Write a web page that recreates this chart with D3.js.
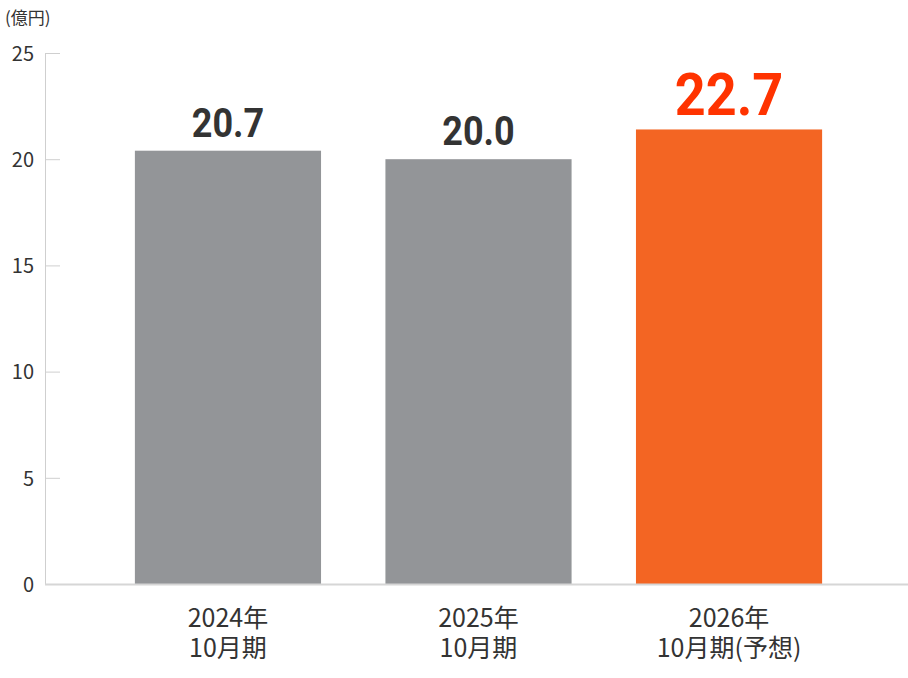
<!DOCTYPE html>
<html>
<head>
<meta charset="utf-8">
<script src="https://cdn.jsdelivr.net/npm/d3@7"></script>
<style>
  html, body { margin: 0; padding: 0; background: #fff; }
  svg { display: block; }
</style>
</head>
<body>
<svg id="chart" width="908" height="678"></svg>
<script>
// ---- data ----
const categoriesLine1 = ["2024年", "2025年", "2026年"];
const categoriesLine2 = ["10月期", "10月期", "10月期(予想)"];
const barValues = [20.4, 20.0, 21.4];        // bar heights as drawn
const valueLabels = ["20.7", "20.0", "22.7"]; // printed labels
const highlight = [false, false, true];
const yTicks = [0, 5, 10, 15, 20, 25];
const unitLabel = "(億円)";

// ---- layout ----
const svg = d3.select("#chart");
const W = 908, H = 678;
const axisX = 45;
const y = d3.scaleLinear().domain([0, 25]).range([584, 53]);
const x = d3.scaleBand().domain(d3.range(barValues.length))
  .range([70.5, 886.5]).paddingInner(0.257).paddingOuter(0.257);

const jp = "'Noto Sans CJK JP', 'Noto Sans', sans-serif";

// unit label
svg.append("text").attr("x", 5).attr("y", 24)
  .attr("font-family", jp).attr("font-size", 17).attr("fill", "#333")
  .text(unitLabel);

// y axis
const yAxis = d3.axisRight(y).tickValues(yTicks).tickSize(15).tickFormat(d3.format("d"));
const gy = svg.append("g").attr("transform", `translate(${axisX},0)`).call(yAxis);
gy.select(".domain").attr("stroke", "#cfcfcf").attr("d", `M0.5,${y(25)}V${y(0)}`);
gy.selectAll(".tick line").attr("stroke", "#cfcfcf").attr("x1", 0.5);
gy.selectAll(".tick text")
  .attr("x", 34 - axisX).attr("text-anchor", "end").attr("dy", "0.36em")
  .attr("font-family", jp).attr("font-size", 20).attr("fill", "#333");

// bars
svg.append("g").selectAll("rect").data(barValues).join("rect")
  .attr("x", (d, i) => x(i)).attr("width", x.bandwidth())
  .attr("y", d => y(d)).attr("height", d => y(0) - y(d))
  .attr("fill", (d, i) => highlight[i] ? "#f36523" : "#939598");

// baseline
svg.append("line").attr("x1", axisX).attr("x2", W).attr("y1", y(0) + 0.5).attr("y2", y(0) + 0.5)
  .attr("stroke", "#d6d6d6").attr("stroke-width", 2);

// value labels
svg.append("g").selectAll("text").data(barValues).join("text")
  .attr("transform", (d, i) => `translate(${x(i) + x.bandwidth() / 2},${y(d) - 14}) scale(0.9,1)`)
  .attr("text-anchor", "middle")
  .attr("font-family", "Roboto, 'Liberation Sans', sans-serif")
  .attr("font-weight", 700)
  .attr("font-size", (d, i) => highlight[i] ? 60 : 40)
  .attr("fill", (d, i) => highlight[i] ? "#ff3300" : "#333333")
  .text((d, i) => valueLabels[i]);

// category labels (two lines each)
const cat = svg.append("g").selectAll("text").data(categoriesLine1).join("text")
  .attr("text-anchor", "middle").attr("font-family", jp).attr("font-size", 25).attr("fill", "#333");
cat.append("tspan")
  .attr("x", (d, i) => x(i) + x.bandwidth() / 2).attr("y", 627)
  .text(d => d);
cat.append("tspan")
  .attr("x", (d, i) => x(i) + x.bandwidth() / 2).attr("y", 657)
  .text((d, i) => categoriesLine2[i]);
</script>
</body>
</html>
